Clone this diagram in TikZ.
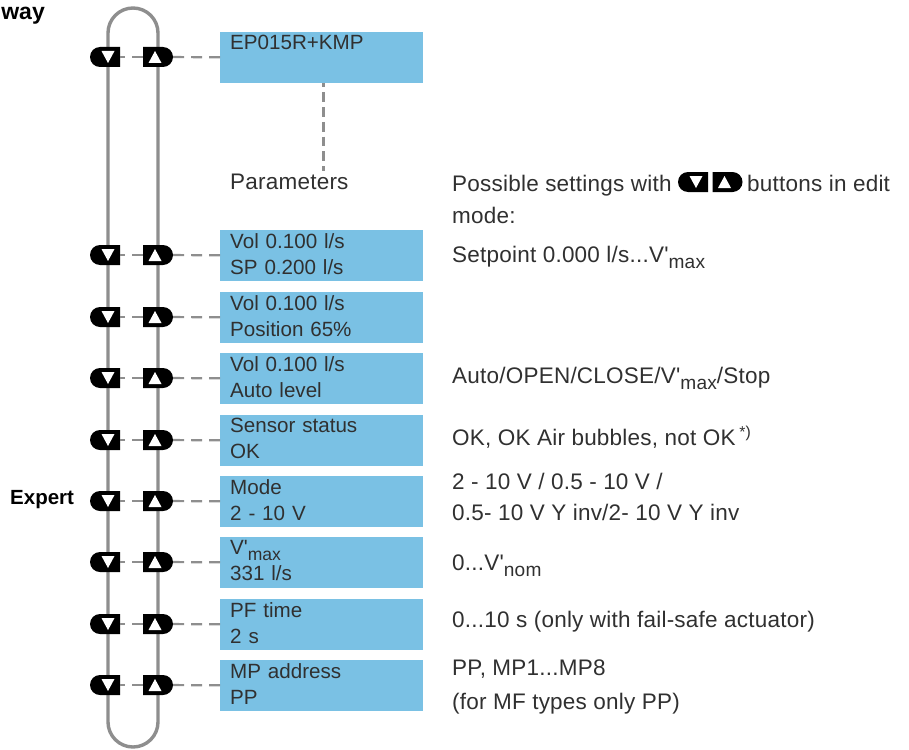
\documentclass[tikz,border=0pt]{standalone}
\usepackage{fontspec}
\setmainfont{Liberation Sans}[Ligatures=TeXOff]
\newfontfamily\notefont{Liberation Sans}[Ligatures=TeXOff,LetterSpace=1]
\usetikzlibrary{shapes.misc}
\definecolor{boxblue}{HTML}{7AC1E4}
\definecolor{railgray}{HTML}{8E8E8E}
\definecolor{textgray}{HTML}{303030}
\newcommand{\lowtext}[1]{\raisebox{-.28em}{\scalebox{.85}{#1}}}
\tikzset {
  rail/.style={draw=railgray,line width=3.4pt},
  dashline/.style={draw=railgray,line width=2.2pt,dash pattern=on 11pt off 7pt},
  stemline/.style={draw=railgray,line width=2.2pt,dash pattern=on 9.6pt off 5.1pt,dash phase=5.6pt},
  menubox/.style={fill=boxblue,minimum width=203pt,minimum height=51pt,inner sep=0pt,anchor=north west,
    text width=183pt,align=left,text=textgray,font=\fontsize{20.6}{26}\selectfont},
  notetext/.style={anchor=base west,inner sep=0pt,text=textgray,font=\notefont\fontsize{22.5}{25}\selectfont},
  headtext/.style={inner sep=0pt,text=black,font=\fontsize{20.5}{23}\bfseries\selectfont},
  downbtn/.style={rounded rectangle,rounded rectangle right arc=none,fill=black,
    minimum width=30pt,minimum height=20pt,inner sep=0pt,
    path picture={\fill[white] ([shift={(-3.5pt,6pt)}]path picture bounding box.center) -- ++(13pt,0) -- ++(-6.5pt,-12pt) -- cycle;}},
  upbtn/.style={rounded rectangle,rounded rectangle left arc=none,fill=black,
    minimum width=30pt,minimum height=20pt,inner sep=0pt,
    path picture={\fill[white] ([shift={(-9.5pt,-6pt)}]path picture bounding box.center) -- ++(13pt,0) -- ++(-6.5pt,12pt) -- cycle;}}
}
\begin{document}
\begin{tikzpicture}[x=1pt,y=-1pt]
\useasboundingbox (0,0) rectangle (909,749);

\path
  (108,8) coordinate (TL) --
  (158,8) coordinate (TR) --
  (158,747) coordinate (BR) --
  (108,747) coordinate (BL);
\draw[rail,rounded corners=25pt] (TL) -- (TR) -- (BR) -- (BL) -- cycle;

\foreach \row/\boxtop/\boxtext in {
  1/32/{EP015R+KMP\\~},
  2/230/{Vol 0.100 l/s\\SP 0.200 l/s},
  3/292/{Vol 0.100 l/s\\Position 65\%},
  4/353/{Vol 0.100 l/s\\Auto level},
  5/415/{Sensor status\\OK},
  6/476/{Mode\\2 - 10 V},
  7/537/{V'\lowtext{max}\\331 l/s},
  8/599/{PF time\\2 s},
  9/660/{MP address\\PP}}
{
  \node[menubox] (box\row) at (220,\boxtop) {\boxtext\par\vspace{4pt}};
  \node[downbtn] (down\row) at (105,\boxtop+25) {};
  \node[upbtn] (up\row) at (158,\boxtop+25) {};
  \draw[dashline] (up\row) -- (down\row);
  \draw[dashline] (up\row) -- (box\row);
}

\node[notetext] (params) at (230,189) {Parameters};
\coordinate (stemend) at (323.5,171);
\draw[stemline] (box1.south -| stemend) -- (stemend);

\foreach \name/\y/\note in {
  a/191/{Possible settings with},
  b/223/{mode:},
  c/262/{Setpoint 0.000 l/s...V'\lowtext{max}},
  d/383/{Auto/OPEN/CLOSE/V'\lowtext{max}/Stop},
  e/445/{OK, OK Air bubbles, not OK\,\textsuperscript{*)}},
  f/489/{2 - 10 V / 0.5 - 10 V /},
  g/520/{0.5- 10 V Y inv/2- 10 V Y inv},
  h/570/{0...V'\lowtext{nom}},
  i/627/{0...10 s (only with fail-safe actuator)},
  j/675/{PP, MP1...MP8},
  k/709/{(for MF types only PP)}}
  \node[notetext] (note\name) at (452,\y) {\note};
\node[notetext] (noteedit) at (747,191) {buttons in edit};

\node[downbtn] (keydown) at (693,182) {};
\node[upbtn] (keyup) at (727.5,182) {};

\node[headtext,anchor=base east,font=\fontsize{23}{25}\bfseries\selectfont] (way) at (45,20) {way};
\node[headtext,anchor=base west] (expert) at (10,504) {Expert};
\end{tikzpicture}
\end{document}
